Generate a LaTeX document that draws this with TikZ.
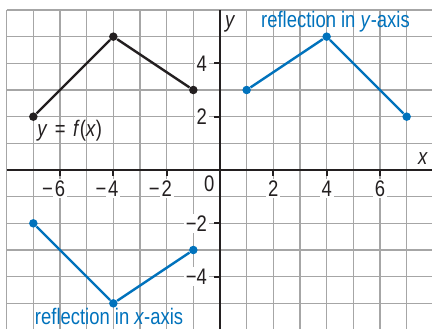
\documentclass[tikz,border=0pt]{standalone}
\usepackage{fontspec}
\setmainfont{Liberation Sans}[FakeStretch=0.82]
\usetikzlibrary{positioning}
\definecolor{refblue}{RGB}{0,114,188}
\definecolor{ink}{RGB}{35,31,32}

\begin{document}
\begin{tikzpicture}[x=0.5cm, y=0.5cm,
  font=\fontsize{12}{14}\selectfont, text=ink,
  gridline/.style={black!35, line width=0.8pt},
  axisline/.style={ink, line width=1.1pt},
  graphline/.style={line width=1.3pt, line join=round},
  dot/.style={circle, fill, inner sep=0pt, minimum size=1.6mm},
  numlabel/.style={fill=white, inner sep=1pt}]
\useasboundingbox (-8.25,-5.96) rectangle (7.95,6.375);

% Grid and axes
\draw[gridline, step=0.5cm] (-8,-6.3) grid (8.3,6);
\draw[axisline] (-8,0) -- (8.3,0);
\draw[axisline] (0,-6.3) -- (0,6);

% Parameters
\def\tick{0.22}  % Length of the tick marks

% Ticks and numbers on the x-axis
\foreach \x/\v in {-6/6,-4/4,-2/2} {
  \draw[axisline] (\x,0) -- (\x,-\tick);
  \node[numlabel] at (\x,-0.69) {\llap{\char"2212\kern1pt}\v};
}
\foreach \x in {2,4,6} {
  \draw[axisline] (\x,0) -- (\x,-\tick);
  \node[numlabel] at (\x,-0.69) {\x};
}

% Ticks and numbers on the y-axis
\foreach \y/\t in {-4/\char"2212 4,-2/\char"2212 2,2/2,4/4} {
  \draw[axisline] (0,\y) -- (-\tick,\y);
  \node[numlabel, anchor=east] at (-0.41,\y) {\t};
}
\node[numlabel] (zero) at (-0.4,-0.5) {0};

% Axis names
\node[anchor=base] (ylab) at (0.38,5.33) {\textit{y}};
\node[anchor=base] (xlab) at (7.61,0.19) {\textit{x}};

% Graph of f
\node[dot, ink] (f1) at (-7,2) {};
\node[dot, ink] (f2) at (-4,5) {};
\node[dot, ink] (f3) at (-1,3) {};
\draw[graphline, ink] (f1) -- (f2) -- (f3);
\node[anchor=base] (flab) at (-5.64,1.25) {\textit{y}\,\,=\,\,\textit{f}(\textit{x})};

% Reflection in y-axis
\node[dot, refblue] (g1) at (1,3) {};
\node[dot, refblue] (g2) at (4,5) {};
\node[dot, refblue] (g3) at (7,2) {};
\draw[graphline, refblue] (g1) -- (g2) -- (g3);
\node[anchor=base, text=refblue] (glab) at (4.33,5.33) {reflection in \textit{y}-axis};

% Reflection in x-axis
\node[dot, refblue] (h1) at (-7,-2) {};
\node[dot, refblue] (h2) at (-4,-5) {};
\node[dot, refblue] (h3) at (-1,-3) {};
\draw[graphline, refblue] (h1) -- (h2) -- (h3);
\node[anchor=base, text=refblue] (hlab) at (-4.16,-5.81) {reflection in \textit{x}-axis};

\end{tikzpicture}
\end{document}
